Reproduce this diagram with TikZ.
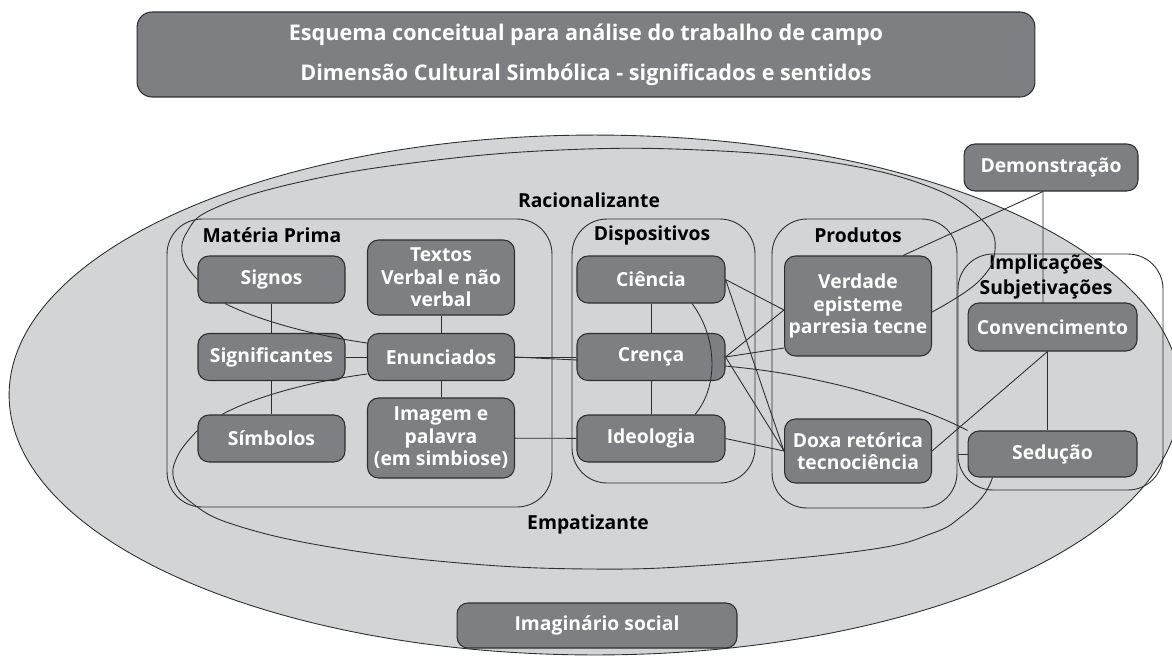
\documentclass[tikz,border=0pt]{standalone}
\usepackage{fontspec}
\setsansfont{Open Sans}
\usetikzlibrary{backgrounds}

\definecolor{panel}{HTML}{D3D4D6}
\definecolor{boxgray}{HTML}{7E7F83}
\definecolor{rim}{HTML}{2E2E2E}

\begin{document}
\begin{tikzpicture}[x=0.02cm,y=-0.02cm,
  every node/.style={font=\sffamily\bfseries\fontsize{11}{12.8}\selectfont,align=center,inner sep=0pt},
  box/.style={draw=rim,fill=boxgray,text=white,rounded corners=0.22cm,line width=0.6pt,minimum width=2.94cm,minimum height=0.94cm},
  group/.style={draw=rim,rounded corners=0.7cm,line width=0.5pt},
  link/.style={draw=rim,line width=0.5pt}]
  \useasboundingbox (0,0) rectangle (1172,660);
  \begin{scope}[on background layer]
    \filldraw[fill=panel,draw=rim,line width=0.5pt] (595,395) ellipse [x radius=11.72cm,y radius=5.2cm];
  \end{scope}

  \node[box,minimum width=17.96cm,minimum height=1.7cm,rounded corners=0.3cm,font=\sffamily\bfseries\fontsize{12.3}{22.8}\selectfont] (head) at (586,54.5) {Esquema conceitual para análise do trabalho de campo\\Dimensão Cultural Simbólica - significados e sentidos};

  \node[group,minimum width=7.7cm,minimum height=5.76cm] (mp) at (359.5,363) {};
  \node[group,minimum width=3.66cm,minimum height=5.28cm] (dp) at (663.5,351) {};
  \node[group,minimum width=3.7cm,minimum height=5.78cm] (pr) at (864.5,363.5) {};
  \node[group,minimum width=4.1cm,minimum height=4.72cm] (im) at (1060.5,372) {};

  \node (rac) at (589,200) {Racionalizante};
  \node (emp) at (588,524) {Empatizante};
  \node (mpl) at (272,235) {Matéria Prima};
  \node (dpl) at (652,235) {Dispositivos};
  \node (prl) at (858,235) {Produtos};
  \node[font=\sffamily\bfseries\fontsize{11}{14}\selectfont] (iml) at (1046,277) {Implicações\\Subjetivações};

  \node[box] (sig) at (271.5,279.5) {Signos};
  \node[box,minimum height=1.5cm] (txt) at (441,277.5) {Textos\\Verbal e não\\verbal};
  \node[box] (sgf) at (271.5,357) {Significantes};
  \node[box] (enu) at (441,357) {Enunciados};
  \node[box] (sim) at (271.5,438.5) {Símbolos};
  \node[box,minimum height=1.6cm] (img) at (441,438) {Imagem e\\palavra\\(em simbiose)};
  \node[box,minimum width=2.96cm] (cie) at (651,279.5) {Ciência};
  \node[box,minimum width=2.96cm] (cre) at (651,357) {Crença};
  \node[box,minimum width=2.96cm] (ide) at (651,438.5) {Ideologia};
  \node[box,minimum height=2cm] (ver) at (858,306) {Verdade\\episteme\\parresia tecne};
  \node[box,minimum height=1.28cm] (dox) at (858,451) {Doxa retórica\\tecnociência};
  \node[box,minimum width=3.38cm,minimum height=0.96cm] (con) at (1052.5,327) {Convencimento};
  \node[box,minimum width=3.38cm,minimum height=0.92cm] (sed) at (1052.5,454) {Sedução};
  \node[box,minimum width=3.48cm] (dem) at (1051,167.5) {Demonstração};
  \node[box,minimum width=5.6cm,minimum height=0.9cm] (soc) at (597,625.5) {Imaginário social};

  \path[link] (sig) edge (sgf) (sgf) edge (sim) (txt) edge (enu) (enu) edge (img)
    (sgf) edge (enu) (enu) edge (cre) (img) edge (ide)
    (cie) edge (cre) (cre) edge (ide)
    (cie.east) edge ([yshift=-0.08cm]ver.west)
    (cie.east) edge (dox.west)
    (cre.east) edge ([yshift=-0.08cm]ver.west)
    (cre.east) edge ([yshift=-0.84cm]ver.west)
    (cre.east) edge (dox.west)
    (ide.east) edge (dox.west)
    ([xshift=0.9cm]ver.north) edge ([xshift=-0.16cm]dem.south)
    ([xshift=-0.16cm]dem.south) edge ([xshift=-0.19cm]con.north)
    ([xshift=-0.1cm]con.south) edge ([xshift=-0.1cm]sed.north)
    ([xshift=-0.1cm]con.south) edge (dox.east)
    (sed.west) edge (sed.west -| im.west);

  \draw[link] ([xshift=-0.93cm]sig.south) .. controls (262,322) and (318,336) .. ([yshift=0.28cm]enu.west);
  \draw[link] ([xshift=-0.99cm]sim.north) .. controls (248,400) and (300,383) .. ([yshift=-0.34cm]enu.west);
  \draw[link] ([xshift=0.82cm]cie.south) .. controls (716,335) and (720,385) .. ([xshift=0.88cm]ide.north);

  \draw[link] plot[smooth,tension=0.7] coordinates {(sig.west) (183,258) (187,232) (215,208) (300,182) (420,162) (560,150) (700,150) (830,162) (930,187) (982,220) (995,250) (978,282) ([yshift=-0.12cm]ver.east)};
  \draw[link] plot[smooth,tension=0.7] coordinates {([yshift=0.16cm]sim.west) (178,455) (174,480) (192,503) (235,525) (330,547) (460,563) (590,569) (710,565) (867,550) (933,533) (962,516) (983,496) ([xshift=-1.2cm]sed.south)};
  \begin{scope}[on background layer]
    \draw[link] plot[smooth,tension=0.7] coordinates {(enu.east) (600,361) (725,366) (830,383) (920,410) (sed.north west)};
  \end{scope}
\end{tikzpicture}
\end{document}
